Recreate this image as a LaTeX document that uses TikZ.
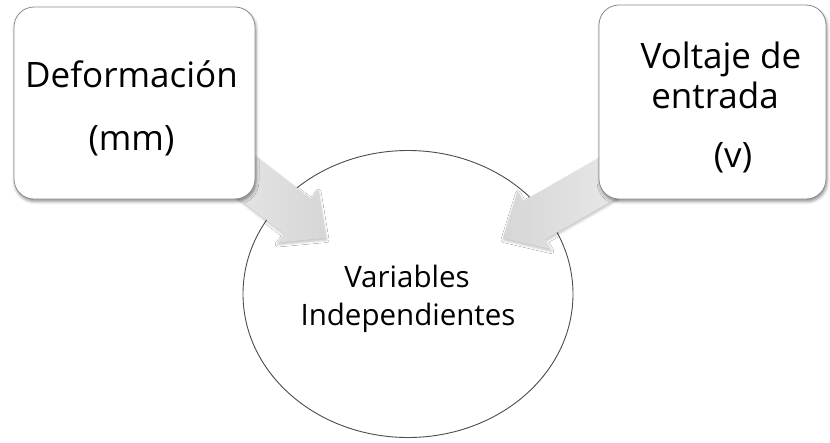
\documentclass[tikz,border=0pt]{standalone}
\usepackage{fontspec}
\setmainfont{Open Sans}
\usetikzlibrary{calc,shadows.blur}

\tikzset{
  infobox/.style={draw=black!45, line width=0.8pt, fill=white, rounded corners=20pt,
    blur shadow={shadow xshift=1pt, shadow yshift=-2.5pt, shadow blur radius=3pt, shadow opacity=45}},
  hub/.style={draw=black!70, line width=0.9pt, fill=white},
  boxtext/.style={anchor=base, inner sep=0pt, font=\fontsize{35}{40}\selectfont},
  hubtext/.style={anchor=base, inner sep=0pt, font=\fontsize{29.5}{34}\selectfont},
  blockarrow/.style={draw=none,
    blur shadow={shadow xshift=0.5pt, shadow yshift=-2pt, shadow blur radius=2.5pt, shadow opacity=25}}
}

% wide block arrow from tail #1 to tip #2
\newcommand\blockarrowpath[3]{%
  \path[blockarrow,#3]
    ($(#1)!22pt!90:(#2)$)
    -- ($($(#2)!36pt!(#1)$)!22pt!-90:(#1)$)
    -- ($($(#2)!36pt!(#1)$)!33.5pt!-90:(#1)$)
    -- (#2)
    -- ($($(#2)!36pt!(#1)$)!33.5pt!90:(#1)$)
    -- ($($(#2)!36pt!(#1)$)!22pt!90:(#1)$)
    -- ($(#1)!22pt!-90:(#2)$)
    -- cycle;}

\begin{document}
\begin{tikzpicture}[x=1pt,y=-1pt]
\useasboundingbox (0,0) rectangle (830,442);

% central ellipse
\draw[hub] (408,294) ellipse [x radius=165, y radius=143.5];
\coordinate (hubc) at (408,294);

% arrow anchors
\coordinate (ltail) at (209.5,148);
\coordinate (ltip) at (326,238);
\coordinate (rtail) at (629.5,165.5);
\coordinate (rtip) at (503,238);

\blockarrowpath{ltail}{ltip}{left color=black!8, right color=black!16}
\blockarrowpath{rtail}{rtip}{left color=black!16, right color=black!8}

% input boxes
\node[infobox, minimum width=241pt, minimum height=192pt] (def) at (134.5,103) {};
\node[infobox, minimum width=227pt, minimum height=194pt] (volt) at (712.5,102) {};

% box labels
\node[boxtext] (def1) at (131.5,87) {Deformación};
\node[boxtext] (def2) at (131.5,150) {(mm)};
\node[boxtext] (volt1) at (721,68) {Voltaje de};
\node[boxtext] (volt2) at (715,108) {entrada};
\node[boxtext] (volt3) at (733,167) {(v)};

% hub label
\node[hubtext] (hub1) at (407,287) {Variables};
\node[hubtext] (hub2) at (408,325) {Independientes};
\end{tikzpicture}
\end{document}
